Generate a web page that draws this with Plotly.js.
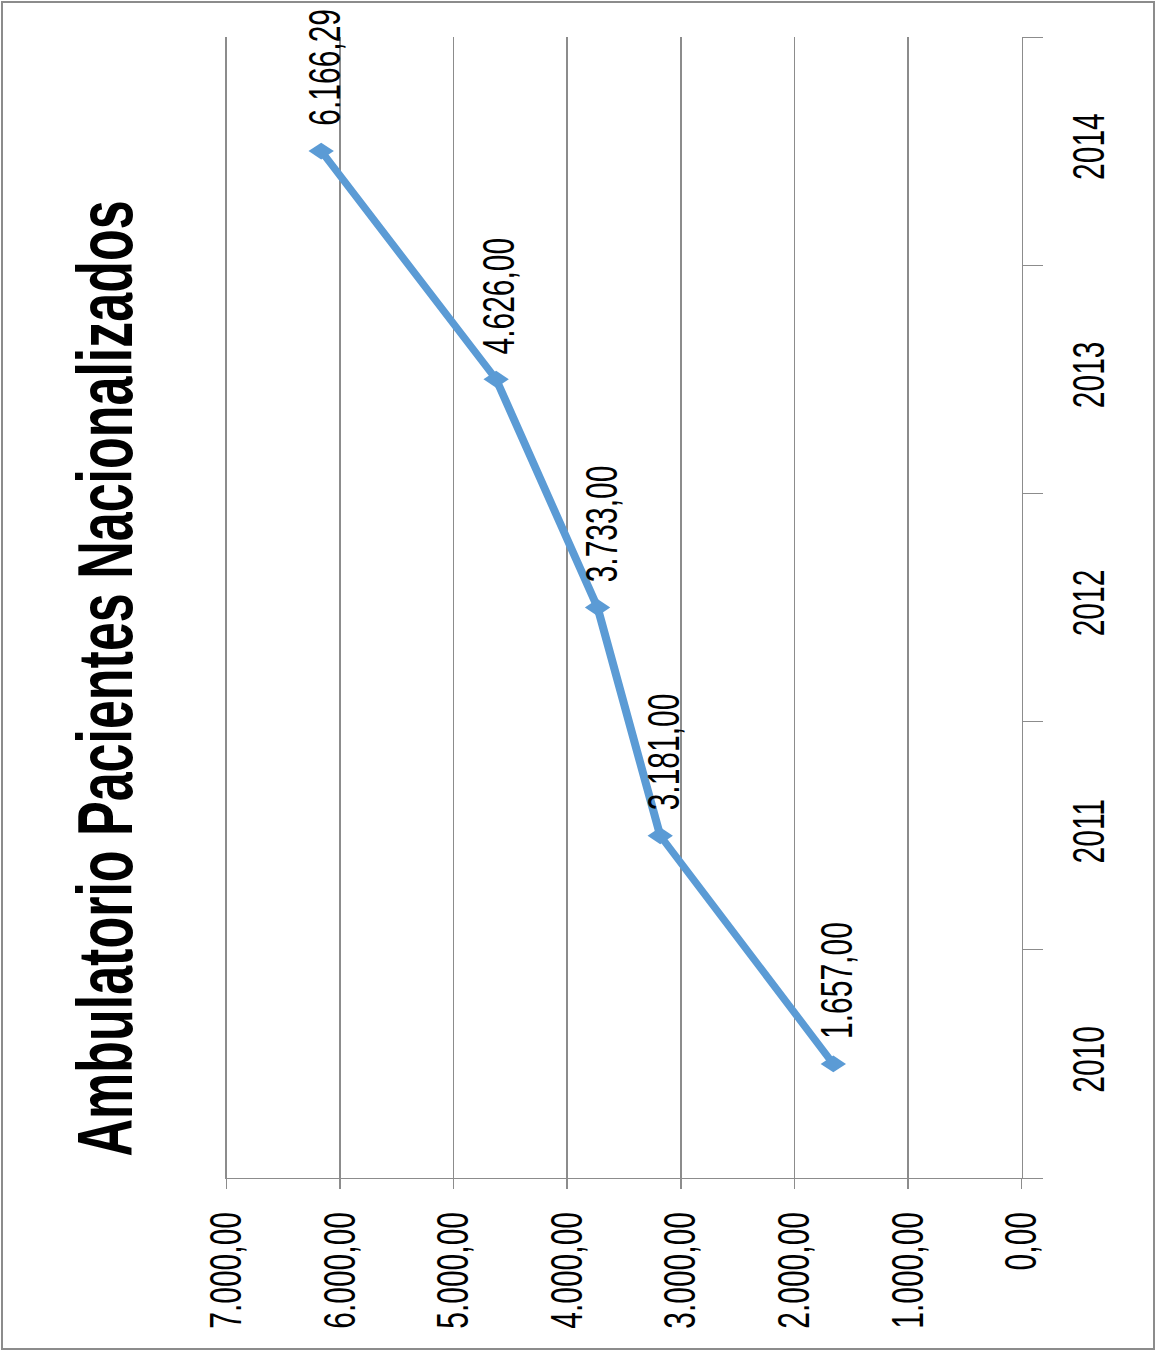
<!DOCTYPE html>
<html><head><meta charset="utf-8">
<script src="https://cdn.plot.ly/plotly-3.0.1.min.js"></script>
<style>
html,body{margin:0;padding:0;background:#fff;}
#frame{position:relative;width:1155px;height:1350px;overflow:hidden;background:#fff;}
#chart{position:absolute;left:0;top:0;width:770px;height:1350px;transform:scaleX(1.5);transform-origin:0 0;}
#border{position:absolute;left:1px;top:1px;width:1150px;height:1345px;border:2px solid #8c8c8c;pointer-events:none;}
</style></head><body>
<div id="frame"><div id="chart"></div><div id="border"></div></div>
<script>
const years = ['2010', '2011', '2012', '2013', '2014'];
const values = [1657, 3181, 3733, 4626, 6166.29];
const valueLabels = ['1.657,00', '3.181,00', '3.733,00', '4.626,00', '6.166,29'];
const chartTitle = 'Ambulatorio Pacientes Nacionalizados';

const FONT = '"Liberation Sans", Arial, sans-serif';
const GRID = '#8c8c8c';
const BLUE = '#5b9bd5';

const trace = {
  type: 'scatter',
  mode: 'lines+markers',
  x: values,
  y: years,
  line: {color: BLUE, width: 5.5},
  marker: {symbol: 'diamond', size: 13, color: BLUE},
  cliponaxis: false,
  hoverinfo: 'none'
};

// category axis: annotation positions use the category serial number
const annotations = values.map((v, i) => ({
  x: v, y: years.indexOf(years[i]), xref: 'x', yref: 'y',
  text: valueLabels[i], showarrow: false, textangle: -90,
  xanchor: 'center', yanchor: 'bottom', xshift: 2, yshift: 23,
  font: {family: FONT, size: 30, color: '#000'}
}));
annotations.push({
  xref: 'paper', yref: 'paper', x: -0.152, y: 0.438,
  text: chartTitle, showarrow: false, textangle: -90,
  xanchor: 'center', yanchor: 'middle',
  font: {family: FONT, size: 52, color: '#000', weight: 'bold'}
});

const layout = {
  width: 770, height: 1350,
  margin: {l: 151, r: 89, t: 37, b: 172, pad: 0},
  paper_bgcolor: '#fff', plot_bgcolor: '#fff',
  separators: ',.',
  showlegend: false,
  font: {family: FONT, size: 30, color: '#000'},
  xaxis: {
    range: [7000, 0], tick0: 0, dtick: 1000, tickformat: ',.2f',
    tickangle: -90, showgrid: true, gridcolor: GRID, gridwidth: 1,
    zeroline: false, showline: true, linecolor: GRID, linewidth: 1,
    ticks: 'outside', ticklen: 10, tickcolor: GRID, tickwidth: 1,
    ticklabelstandoff: 11,
    tickfont: {family: FONT, size: 30, color: '#000'}
  },
  yaxis: {
    type: 'category', categoryarray: years, categoryorder: 'array',
    range: [-0.5, 4.5], side: 'right', showline: true, linecolor: GRID, linewidth: 1,
    mirror: true, showgrid: false, zeroline: false,
    ticks: 'outside', ticklen: 13, tickcolor: GRID, tickwidth: 1, tickson: 'boundaries',
    tickangle: -90, ticklabelstandoff: 18,
    tickfont: {family: FONT, size: 30, color: '#000'}
  },
  annotations: annotations
};

Plotly.newPlot('chart', [trace], layout, {displayModeBar: false, staticPlot: true});
</script>
</body></html>
